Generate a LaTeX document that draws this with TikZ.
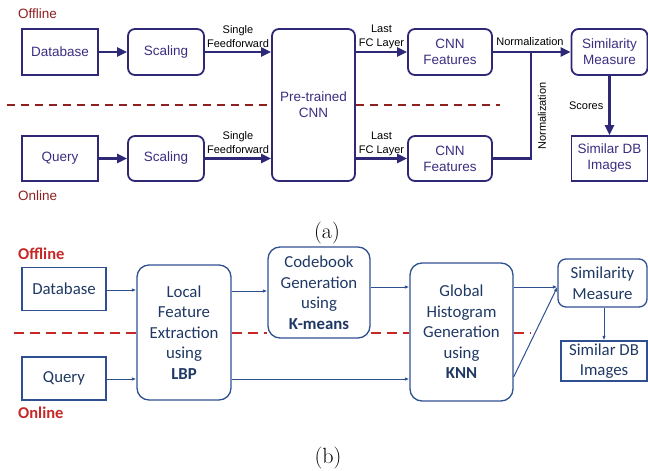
\documentclass[tikz,border=0pt]{standalone}
\usepackage{fontspec}
\newfontfamily\helv{Liberation Sans}
\newfontfamily\calib{Carlito}
\usetikzlibrary{arrows.meta}
\definecolor{aline}{HTML}{2E2876}
\definecolor{atext}{HTML}{3A2E80}
\definecolor{ared}{HTML}{8E2020}
\definecolor{bline}{HTML}{2F5090}
\definecolor{btext}{HTML}{1F3864}
\definecolor{bred}{HTML}{C62828}
\tikzset{
  abox/.style={draw=aline, line width=1.8pt, text=atext, font=\helv\fontsize{13.5}{16}\selectfont, align=center, inner sep=0pt, minimum width=76pt, minimum height=46pt},
  around/.style={abox, rounded corners=7pt},
  aarrow/.style={draw=aline, line width=2.4pt, -{Triangle[length=10pt,width=9pt]}},
  aline/.style={draw=aline, line width=2.4pt},
  alab/.style={font=\helv\fontsize{11}{14}\selectfont, text=black, align=center, inner sep=1pt},
  adash/.style={draw=ared, line width=2pt, dash pattern=on 8pt off 6pt},
  aside/.style={font=\helv\fontsize{13.5}{16}\selectfont, text=ared, anchor=west, inner sep=0pt},
  bbox/.style={draw=bline, line width=1.3pt, text=btext, font=\calib\fontsize{16.8}{20.5}\selectfont, align=center, inner sep=0pt},
  bround/.style={bbox, rounded corners=12pt},
  barrow/.style={draw=bline, line width=1pt, -{Latex[length=4.5pt,width=3.5pt]}},
  bdash/.style={draw=bred, line width=1.6pt, dash pattern=on 10pt off 6pt},
  bside/.style={font=\calib\bfseries\fontsize{16.5}{20}\selectfont, text=bred, anchor=west, inner sep=0pt},
  capt/.style={font=\fontsize{22}{26}\selectfont, inner sep=0pt}
}
\begin{document}
\begin{tikzpicture}[x=1pt,y=-1pt]
\useasboundingbox (0,0) rectangle (648,471);
% ---------------- (a) ----------------
\node[aside] (offA) at (18,14) {Offline};
\node[aside] (onA) at (18,196) {Online};
\node[abox] (dbA) at (60,52) {Database};
\node[around] (scA1) at (166,52) {Scaling};
\node[around, minimum width=83pt, minimum height=152pt] (cnn) at (313.5,105) {Pre-trained\\CNN};
\node[around, minimum width=84pt] (featA1) at (450,52) {CNN\\Features};
\node[around, minimum width=76pt] (simA) at (609.5,52) {Similarity\\Measure};
\node[abox, minimum height=45pt] (qA) at (60,158.5) {Query};
\node[around, minimum height=45pt] (scA2) at (166,158.5) {Scaling};
\node[around, minimum width=84pt, minimum height=45pt] (featA2) at (450,158.5) {CNN\\Features};
\node[abox, minimum height=45pt] (simdbA) at (609.5,158.5) {Similar DB\\Images};
\coordinate (jn) at (531,52);
\draw[aarrow] (dbA) -- (scA1);
\draw[aarrow] (qA) -- (scA2);
\draw[aarrow] (scA1.east) -- node[alab, above=2.5pt] (lf1) {Single\\Feedforward} (cnn.west |- scA1.east);
\draw[aarrow] (scA2.east) -- node[alab, above=2.5pt] (lf2) {Single\\Feedforward} (cnn.west |- scA2.east);
\draw[aarrow] (cnn.east |- featA1.west) -- node[alab, above=1pt] (lc1) {Last\\FC Layer} (featA1.west);
\draw[aarrow] (cnn.east |- featA2.west) -- node[alab, above=1pt] (lc2) {Last\\FC Layer} (featA2.west);
\draw[aarrow] (featA1.east) -- (simA.west);
\node[alab, anchor=base] (nrm1) at (530,45) {Normalization};
\draw[aline] (featA2.east) -| (jn);
\node[alab, rotate=90, anchor=center] (nrm2) at (542,116) {Normalization};
\draw[aarrow] (simA.south) -- node[alab, left=4pt] (sco) {Scores} (simdbA.north);
\draw[adash] (7,105) -- (cnn.west |- 0,105);
\draw[adash] (cnn.east |- 0,105) -- (500,105);
\node[capt] (capA) at (327,233) {(a)};
% ---------------- (b) ----------------
\node[bside] (offB) at (18,254) {Offline};
\node[bside] (onB) at (18,413) {Online};
\node[bbox, minimum width=84pt, minimum height=43pt] (dbB) at (64,289) {Database};
\node[bbox, minimum width=84pt, minimum height=43pt] (qB) at (64,378.5) {Query};
\node[bround, minimum width=94pt, minimum height=135pt] (lfe) at (184,332.5) {Local\\Feature\\Extraction\\using\\\textbf{LBP}};
\node[bround, minimum width=102pt, minimum height=91pt] (cb) at (319,292.5) {Codebook\\Generation\\using\\\textbf{K-means}};
\node[bround, minimum width=103pt, minimum height=138pt] (gh) at (461.5,332) {Global\\Histogram\\Generation\\using\\\textbf{KNN}};
\node[bround, rounded corners=8pt, minimum width=89pt, minimum height=48pt] (simB) at (602.5,283) {Similarity\\Measure};
\node[bbox, minimum width=86pt, minimum height=40pt] (simdbB) at (604,361) {Similar DB\\Images};
\coordinate (tgt) at ([yshift=-4pt]simB.west);
\draw[barrow] (dbB.east |- 0,290) -- (lfe.west |- 0,290);
\draw[barrow] (qB.east |- 0,379) -- (lfe.west |- 0,379);
\draw[barrow] (lfe.east |- 0,291) -- (cb.west |- 0,291);
\draw[barrow] (cb.east |- 0,287) -- (gh.west |- 0,287);
\draw[barrow] (lfe.east |- 0,379) -- (gh.west |- 0,379);
\draw[barrow] (gh.east |- 0,287) -- (tgt);
\draw[barrow] (gh.east |- 0,377) -- (tgt);
\draw[barrow] (simB.south -| simdbB.north) -- (simdbB.north);
\draw[bdash] (14,333) -- (lfe.west |- 0,333);
\draw[bdash] (lfe.east |- 0,333) -- (cb.west |- 0,333);
\draw[bdash] (cb.east |- 0,333) -- (gh.west |- 0,333);
\draw[bdash] (gh.east |- 0,333) -- (530,333);
\node[capt] (capB) at (328,458) {(b)};
\end{tikzpicture}
\end{document}
